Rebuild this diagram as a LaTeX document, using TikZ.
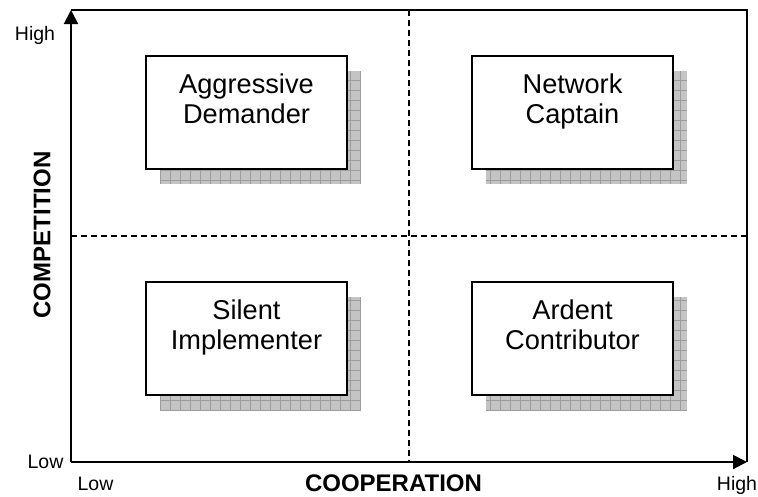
\documentclass[tikz,border=0pt]{standalone}
\usepackage{fontspec}
\setmainfont{Liberation Sans}
\usepackage{xcolor}
\usepackage{tikz}
\usetikzlibrary{calc,arrows.meta}
\definecolor{ink}{HTML}{000000}
\definecolor{shadefill}{HTML}{C4C4C4}
\definecolor{shadegrid}{HTML}{9C9C9C}
\tikzset{
  axisline/.style={draw=ink, line width=2pt},
  axisarrow/.style={axisline, -{Triangle[length=14pt,width=14pt]}},
  divider/.style={draw=ink, line width=1.3pt, dash pattern=on 6pt off 4pt},
  rolebox/.style={draw=ink, line width=2pt, fill=white, minimum width=201pt,
    minimum height=113pt, inner sep=0pt, outer sep=0pt},
  roletext/.style={font=\fontsize{27.2}{30}\selectfont, align=center, inner sep=0pt, anchor=base},
  ticklab/.style={font=\fontsize{19.5}{22}\selectfont, inner sep=0pt, anchor=base},
  axislab/.style={font=\fontsize{24}{28}\selectfont\bfseries, inner sep=0pt}
}

\begin{document}
\begin{tikzpicture}[x=1pt, y=-1pt]
  \useasboundingbox (0,0) rectangle (758,496);

  % frame and axes
  \coordinate (origin) at (71,462);
  \coordinate (ytip) at (71,10);
  \coordinate (xtip) at (747,462);
  \coordinate (corner) at (747,10);
  \coordinate (midtop) at (409,10);
  \coordinate (midbot) at (409,462);
  \coordinate (midleft) at (71,236);
  \coordinate (midright) at (747,236);

  \draw[divider] (midtop) -- (midbot);
  \draw[divider] (midleft) -- (midright);
  \draw[axisline] (ytip) -- (corner) -- (xtip);
  \draw[axisarrow] (origin) -- (ytip);
  \draw[axisarrow] (origin) -- (xtip);

  % quadrant boxes
  \def\shx{14}
  \def\shy{15}
  \node[rolebox, draw=none, fill=none] (ad) at (246.5,112.5) {};
  \node[rolebox, draw=none, fill=none] (nc) at (572.5,112.5) {};
  \node[rolebox, draw=none, fill=none] (si) at (246.5,338.5) {};
  \node[rolebox, draw=none, fill=none] (ac) at (572.5,338.5) {};

  % shadows with grid texture
  \foreach \b in {ad,nc,si,ac}{
    \begin{scope}
      \clip ($(\b.north west)+(\shx,\shy)$) rectangle ($(\b.south east)+(\shx,\shy)$);
      \fill[shadefill] ($(\b.north west)+(\shx,\shy)$) rectangle ($(\b.south east)+(\shx,\shy)$);
      \draw[shadegrid, line width=0.6pt, step=10pt] ($(\b.north west)+(\shx,\shy)$) grid ($(\b.south east)+(\shx,\shy)$);
    \end{scope}
  }

  \node[rolebox] (adbox) at (ad) {};
  \node[rolebox] (ncbox) at (nc) {};
  \node[rolebox] (sibox) at (si) {};
  \node[rolebox] (acbox) at (ac) {};

  % base anchor sits on the second line
  \node[roletext] (adtxt) at ($(adbox.north)+(0,67)$) {Aggressive\\Demander};
  \node[roletext] (nctxt) at ($(ncbox.north)+(0,67)$) {Network\\Captain};
  \node[roletext] (sitxt) at ($(sibox.north)+(0,67)$) {Silent\\Implementer};
  \node[roletext] (actxt) at ($(acbox.north)+(0,67)$) {Ardent\\Contributor};

  % axis labels
  \node[ticklab] (yhigh) at (35,40) {High};
  \node[ticklab] (ylow) at (45.5,468) {Low};
  \node[ticklab] (xlow) at (95.5,490) {Low};
  \node[ticklab] (xhigh) at (737,490) {High};
  \node[axislab, anchor=base] (xname) at (393.5,491) {COOPERATION};
  \node[axislab, rotate=90] (yname) at (42,235) {COMPETITION};
\end{tikzpicture}
\end{document}
